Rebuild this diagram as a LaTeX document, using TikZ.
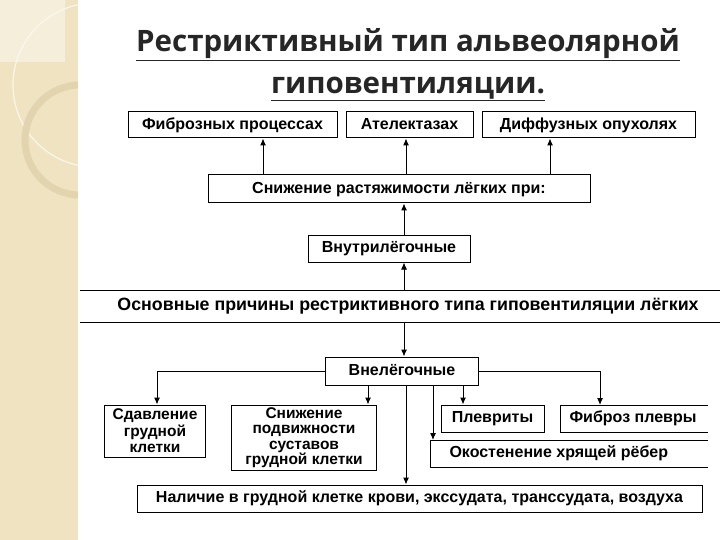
\documentclass[tikz,border=0pt]{standalone}
\usepackage{fontspec}
\setmainfont{Liberation Sans}
\newfontfamily\titlefont{Open Sans}
\usetikzlibrary{arrows.meta}
\definecolor{stripc}{HTML}{EFE3C2}
\definecolor{stripd}{HTML}{E2D4AE}
\begin{document}
\begin{tikzpicture}[x=1pt,y=-1pt,
  bx/.style={draw,line width=1pt,inner sep=0pt,align=center,font=\fontsize{16}{17}\selectfont\bfseries},
  one/.style={text height=11.5pt,text depth=3pt},
  lbl/.style={font=\fontsize{16}{17}\selectfont\bfseries},
  arr/.style={-{Latex[length=7pt,width=6pt]},line width=1pt}]
\useasboundingbox (0,0) rectangle (720,540);
\fill[white] (0,0) rectangle (720,540);
\fill[stripc] (0,0) rectangle (78,540);
\fill[stripc!60!white] (0,0) rectangle (65,62);
\begin{scope}
\clip (0,0) rectangle (78,540);
\draw[white!70!stripc,line width=1.2pt] (95,85) circle (82);
\draw[stripd,line width=7pt] (80,140) circle (55);
\end{scope}
% title
\node[font=\titlefont\fontsize{29.5}{32}\selectfont\bfseries,text=black!85] (t1) at (408,45) {\underline{Рестриктивный тип альвеолярной}};
\node[font=\titlefont\fontsize{29.5}{32}\selectfont\bfseries,text=black!85] (t2) at (408,89) {\underline{гиповентиляции.}};
% top
\node[bx,one,minimum width=209,minimum height=26] (f1) at (232.5,125) {Фиброзных процессах};
\node[bx,one,minimum width=127,minimum height=26] (f2) at (409.5,125) {Ателектазах};
\node[bx,one,minimum width=213,minimum height=26] (f3) at (588.5,125) {Диффузных опухолях};
\node[bx,one,minimum width=382,minimum height=28] (sn) at (399,189) {Снижение растяжимости лёгких при:};
\node[bx,one,minimum width=162,minimum height=27] (vn) at (389,248.5) {Внутрилёгочные};
\draw[arr] (sn.north -| 263,0) -- (f1.south -| 263,0);
\draw[arr] (sn.north -| 406,0) -- (f2.south -| 406,0);
\draw[arr] (sn.north -| 550,0) -- (f3.south -| 550,0);
\draw[arr] (vn.north -| 404,0) -- (sn.south -| 404,0);
% band
\coordinate (bl1) at (80,290); \coordinate (br1) at (720,290);
\coordinate (bl2) at (80,322); \coordinate (br2) at (720,322);
\draw[line width=1pt] (bl1) -- (br1);
\draw[line width=1pt] (bl2) -- (br2);
\node[font=\fontsize{17.8}{19}\selectfont\bfseries,one] (band) at (408,306) {Основные причины рестриктивного типа гиповентиляции лёгких};
\draw[arr] (404,290) -- (vn.south -| 404,0);
% lower
\node[bx,one,minimum width=153,minimum height=28] (ve) at (402,371) {Внелёгочные};
\draw[arr] (404,322) -- (ve.north -| 404,0);
\node[bx,minimum width=101,minimum height=52,font=\fontsize{15.5}{16.5}\selectfont\bfseries] (sd) at (155,431) {Сдавление\\грудной\\клетки};
\node[bx,minimum width=145,minimum height=65,font=\fontsize{15.5}{15.5}\selectfont\bfseries] (sp) at (304,437.5) {Снижение\\подвижности\\суставов\\грудной клетки};
\node[bx,one,minimum width=103,minimum height=27] (pl) at (492.5,418.5) {Плевриты};
\node[lbl,one,anchor=west] (fp) at (566,418.5) {Фиброз плевры};
\draw[line width=1pt] (708,405) -- (560,405) -- (560,432) -- (708,432);
\coordinate (fpt) at (600,405);
\node[lbl,one,anchor=west] (ok) at (446,453.5) {Окостенение хрящей рёбер};
\draw[line width=1pt] (708,440) -- (430,440) -- (430,467) -- (708,467);
\coordinate (okt) at (433,440);
\node[bx,one,minimum width=565,minimum height=27] (na) at (419.5,498.5) {Наличие в грудной клетке крови, экссудата, транссудата, воздуха};
\draw[arr] (ve.west) -| (sd.north -| 157,0);
\draw[arr] (ve.east) -| (fpt);
\draw[arr] (ve.south -| 368,0) -- (sp.north -| 368,0);
\draw[arr] (ve.south -| 406,0) -- (na.north -| 406,0);
\draw[arr] (ve.south -| 433,0) -- (okt);
\draw[arr] (ve.south -| 463,0) -- (pl.north -| 463,0);
\end{tikzpicture}
\end{document}
